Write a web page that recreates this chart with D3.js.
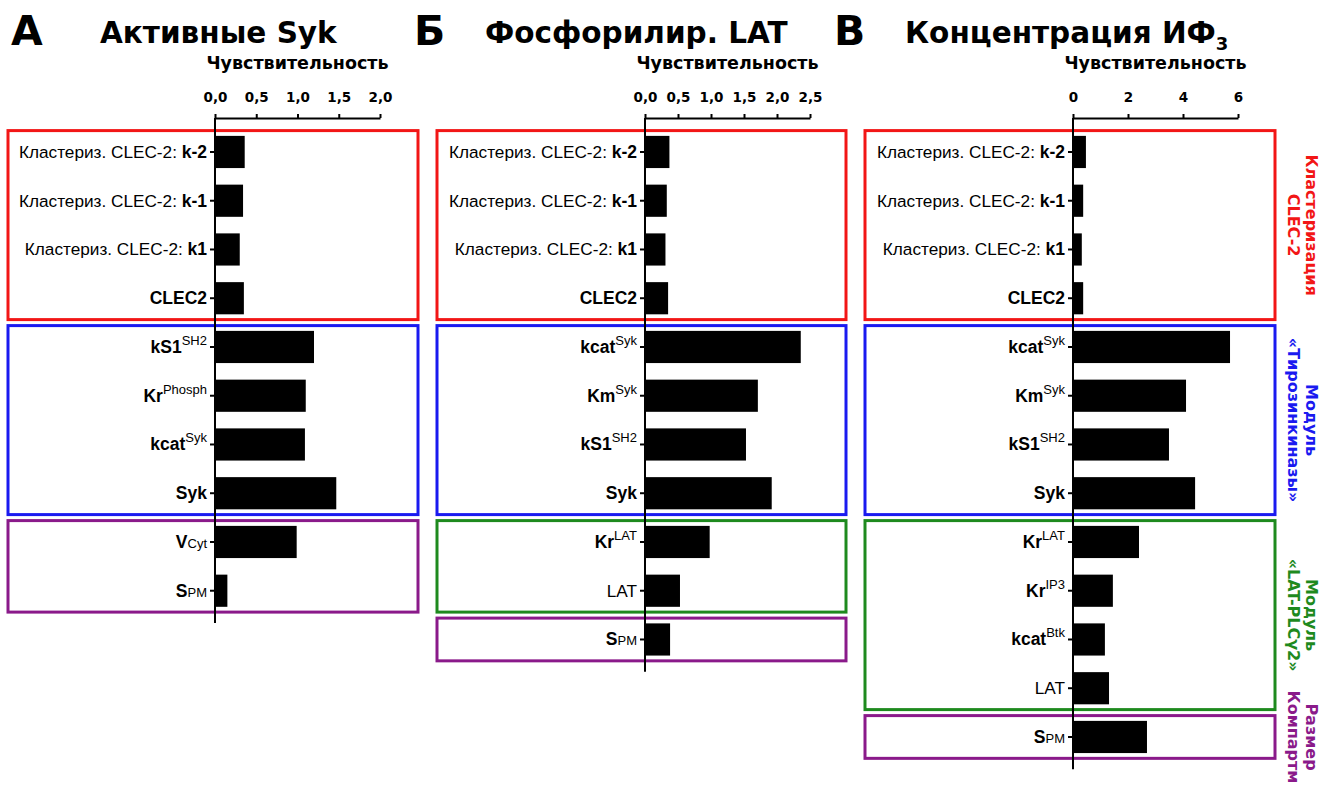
<!DOCTYPE html>
<html><head><meta charset="utf-8">
<script src="https://cdn.jsdelivr.net/npm/d3@7"></script>
<style>
body{margin:0;background:#fff}
text{font-family:"Liberation Sans",Arial,sans-serif}
.hd{font-family:"DejaVu Sans",Verdana,sans-serif;font-weight:bold}
</style>
</head><body>
<svg id="chart" width="1333" height="787"></svg>
<script>
// ---- Data -------------------------------------------------------------
// Parameter labels, top to bottom. pre = regular text, main = bold text,
// sup = superscript, small = reduced text on the baseline.
const clusterLabels = [
  {pre:"Кластериз. CLEC-2: ", main:"k-2"},
  {pre:"Кластериз. CLEC-2: ", main:"k-1"},
  {pre:"Кластериз. CLEC-2: ", main:"k1"},
  {main:"CLEC2"}
];
const labelsA = clusterLabels.concat([
  {main:"kS1", sup:"SH2"},
  {main:"Kr", sup:"Phosph"},
  {main:"kcat", sup:"Syk"},
  {main:"Syk"},
  {main:"V", small:"Cyt"},
  {main:"S", small:"PM"}
]);
const labelsB = clusterLabels.concat([
  {main:"kcat", sup:"Syk"},
  {main:"Km", sup:"Syk"},
  {main:"kS1", sup:"SH2"},
  {main:"Syk"},
  {main:"Kr", sup:"LAT"},
  {pre:"LAT"},
  {main:"S", small:"PM"}
]);
const labelsC = clusterLabels.concat([
  {main:"kcat", sup:"Syk"},
  {main:"Km", sup:"Syk"},
  {main:"kS1", sup:"SH2"},
  {main:"Syk"},
  {main:"Kr", sup:"LAT"},
  {main:"Kr", sup:"IP3"},
  {main:"kcat", sup:"Btk"},
  {pre:"LAT"},
  {main:"S", small:"PM"}
]);

// Sensitivity values
const valuesA = [0.36, 0.34, 0.30, 0.35, 1.20, 1.10, 1.09, 1.47, 0.99, 0.15];
const valuesB = [0.37, 0.33, 0.31, 0.35, 2.36, 1.71, 1.53, 1.92, 0.98, 0.53, 0.38];
const valuesC = [0.47, 0.37, 0.32, 0.37, 5.71, 4.11, 3.49, 4.44, 2.40, 1.45, 1.16, 1.31, 2.69];

// Axis ticks
const ticksA = [0, 0.5, 1.0, 1.5, 2.0];
const ticksB = [0, 0.5, 1.0, 1.5, 2.0, 2.5];
const ticksC = [0, 2, 4, 6];

// Module groupings: [first row, last row, module]
const groupsA = [[0,3,"cluster"],[4,7,"kinase"],[8,9,"size"]];
const groupsB = [[0,3,"cluster"],[4,7,"kinase"],[8,9,"lat"],[10,10,"size"]];
const groupsC = [[0,3,"cluster"],[4,7,"kinase"],[8,11,"lat"],[12,12,"size"]];

// Module captions (two lines each)
const moduleNames = {
  cluster:["Кластеризация","CLEC-2"],
  kinase:["Модуль","«Тирозинкиназы»"],
  lat:["Модуль","«LAT-PLCγ2»"],
  size:["Размер","Компартм"]
};

const panelLetters = ["А","Б","В"];
const panelTitles = ["Активные Syk","Фосфорилир. LAT","Концентрация ИФ"];
const axisTitle = "Чувствительность";

// ---- Styles & layout -------------------------------------------------
const colors = {cluster:"#f21616", kinase:"#1a1af0", lat:"#1e8a1e", size:"#8a1a8a"};
const rowTop = 127.6, step = 48.75, pad = 0.34, axisY = 118, axisLen = 165;

const svg = d3.select("#chart");

const panels = [
  {labels:labelsA, values:valuesA, ticks:ticksA, groups:groupsA, zero:215, boxL:8,   boxR:418, fmt:d3.format(".1f"),
   letterX:11, titleX:100},
  {labels:labelsB, values:valuesB, ticks:ticksB, groups:groupsB, zero:645, boxL:437, boxR:846, fmt:d3.format(".1f"),
   letterX:414, titleX:485},
  {labels:labelsC, values:valuesC, ticks:ticksC, groups:groupsC, zero:1073, boxL:865, boxR:1275, fmt:d3.format("d"),
   letterX:834, titleX:905}
];

panels.forEach((p, pi) => {
  const n = p.values.length;
  const g = svg.append("g");
  const x = d3.scaleLinear().domain([0, d3.max(p.ticks)]).range([p.zero, p.zero + axisLen]);
  const y = d3.scaleBand().domain(d3.range(n))
    .range([rowTop, rowTop + n * step]).paddingInner(pad).paddingOuter(pad / 2);
  const gap = y.step() * pad / 2;

  // Panel letter and title
  g.append("text").attr("class","hd").attr("x", p.letterX).attr("y", 45)
    .attr("font-size", 41).text(panelLetters[pi]);
  const t = g.append("text").attr("class","hd").attr("x", p.titleX).attr("y", 43)
    .attr("font-size", 29.5).text(panelTitles[pi]);
  if (pi === 2) t.append("tspan").attr("font-size", 18).attr("dy", 7).text("3");

  // Module boxes
  g.selectAll("rect.box").data(p.groups).join("rect").attr("class","box")
    .attr("x", p.boxL).attr("width", p.boxR - p.boxL)
    .attr("y", d => y(d[0]) - gap + 3)
    .attr("height", d => (y(d[1]) + y.bandwidth() + gap - 3) - (y(d[0]) - gap + 3))
    .attr("fill","none").attr("stroke", d => colors[d[2]]).attr("stroke-width", 3);

  // Bars
  g.selectAll("rect.bar").data(p.values).join("rect").attr("class","bar")
    .attr("x", x(0)).attr("y", (d, i) => y(i))
    .attr("width", d => x(d) - x(0)).attr("height", y.bandwidth())
    .attr("fill","#000");

  // Top value axis
  const ax = g.append("g").attr("transform", `translate(0,${axisY})`)
    .call(d3.axisTop(x).tickValues(p.ticks).tickSize(4).tickSizeOuter(0).tickPadding(12)
      .tickFormat(d => p.fmt(d).replace(".", ",")));
  ax.selectAll("path,line").attr("stroke","#000").attr("stroke-width", 2);
  ax.selectAll("text").attr("class","hd").attr("font-size", 13.5).attr("fill","#000");

  g.append("text").attr("class","hd").attr("x", (x.range()[0] + x.range()[1]) / 2).attr("y", 69)
    .attr("text-anchor","middle").attr("font-size", 17.5).text(axisTitle);

  // Left category axis
  const ay = g.append("g").attr("transform", `translate(${x(0)},0)`)
    .call(d3.axisLeft(y).tickSize(5).tickSizeOuter(0).tickFormat(""));
  ay.select(".domain").attr("d", `M0,${axisY}V${y.range()[1] + 8}`);
  ay.selectAll("path,line").attr("stroke","#000").attr("stroke-width", 2);

  // Category labels
  const lbl = g.selectAll("text.lbl").data(p.labels).join("text").attr("class","lbl")
    .attr("x", x(0) - 8).attr("y", (d, i) => y(i) + y.bandwidth() / 2 + 6)
    .attr("text-anchor","end").attr("font-size", 17.2).attr("fill","#000");
  lbl.each(function(d) {
    const el = d3.select(this);
    if (d.pre) el.append("tspan").attr("font-weight","normal").text(d.pre);
    if (d.main) el.append("tspan").attr("font-weight","bold").attr("font-size", 17.5).text(d.main);
    if (d.small) el.append("tspan").attr("font-size", 13).text(d.small);
    if (d.sup) el.append("tspan").attr("font-size", 13).attr("dy", -8).text(d.sup);
  });

  // Module captions on the right side of the last panel
  if (pi === 2) {
    p.groups.forEach(d => {
      const cy = (y(d[0]) + y(d[1]) + y.bandwidth()) / 2;
      const cap = svg.append("g").attr("transform", `translate(1306,${cy}) rotate(90)`);
      moduleNames[d[2]].forEach((line, li) => {
        cap.append("text").attr("class","hd").attr("x", 0).attr("y", li * 18)
          .attr("text-anchor","middle").attr("font-size", 16)
          .attr("fill", colors[d[2]]).text(line);
      });
    });
  }
});
</script>
</body></html>
